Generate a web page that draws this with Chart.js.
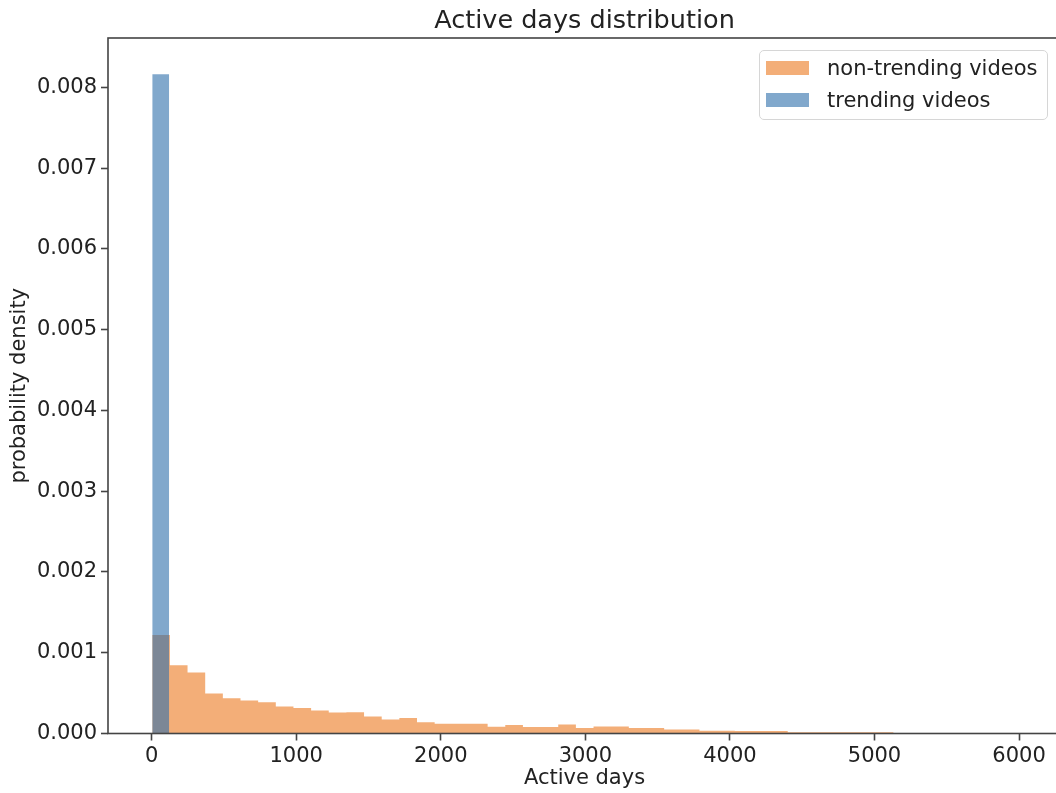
<!DOCTYPE html>
<html lang="en">
<head>
    <meta charset="UTF-8">
    <meta name="viewport" content="width=device-width, initial-scale=1.0">
    <title>Active days distribution</title>
    <script src="https://cdn.jsdelivr.net/npm/chart.js"></script>
    <style>
        body {
            margin: 0;
            background: #fff;
            overflow: hidden;
        }
        .chart-wrap {
            position: relative;
            width: 1076px;
            height: 793px;
        }
        #legend {
            position: absolute;
            left: 759px;
            top: 50px;
            width: 289px;
            height: 70px;
            box-sizing: border-box;
            border: 1px solid #d6d6d6;
            border-radius: 5px;
            background: rgba(255, 255, 255, 0.8);
            font-family: "DejaVu Sans", sans-serif;
            font-size: 21px;
            color: #222;
        }
        .legend-item {
            position: absolute;
            left: 6px;
            height: 24px;
            display: flex;
            align-items: center;
            white-space: nowrap;
        }
        .legend-swatch {
            width: 43px;
            height: 14px;
            margin-right: 18px;
        }
    </style>
</head>
<body>
    <div class="chart-wrap">
        <canvas id="histChart" width="1076" height="793"></canvas>
        <div id="legend"></div>
    </div>

    <script>
        // density per bin
        const nonTrendingDensity = [
            0.001218, 0.000846, 0.000756, 0.000496, 0.000437, 0.000409, 0.000388,
            0.000335, 0.000317, 0.000285, 0.000260, 0.000262, 0.000211, 0.000173,
            0.000193, 0.000140, 0.000122, 0.000122, 0.000122, 0.000085, 0.000105,
            0.000082, 0.000082, 0.000110, 0.000068, 0.000088, 0.000088, 0.000068,
            0.000068, 0.000050, 0.000050, 0.000033, 0.000033, 0.000032, 0.000032,
            0.000032, 0.000016, 0.000016, 0.000016, 0.000016, 0.000016, 0.000016
        ];
        const trendingDensity = [0.00816];

        // bin layout (days)
        const nonTrendingFirstEdge = 4;
        const nonTrendingBinWidth = 122.1;
        const trendingFirstEdge = 4;
        const trendingBinWidth = 117;

        const xTicks = [0, 1000, 2000, 3000, 4000, 5000, 6000];
        const yTicks = [0, 0.001, 0.002, 0.003, 0.004, 0.005, 0.006, 0.007, 0.008];

        const seriesLabels = ['non-trending videos', 'trending videos'];

        const FONT = 'DejaVu Sans';
        const TEXT = '#222';
        const SPINE = '#444';

        // histogram outline as points on the left bin edges, closed on the last right edge
        function stepPoints(first, width, values) {
            const pts = values.map((v, i) => ({ x: first + i * width, y: v }));
            pts.push({ x: first + values.length * width, y: values[values.length - 1] });
            return pts;
        }

        const framePlugin = {
            id: 'frame',
            afterDatasetsDraw(chart) {
                const a = chart.chartArea;
                const ctx = chart.ctx;
                ctx.save();
                ctx.strokeStyle = SPINE;
                ctx.lineWidth = 1.6;
                ctx.strokeRect(a.left, a.top, a.right - a.left, a.bottom - a.top);
                ctx.restore();
            }
        };

        const ctx = document.getElementById('histChart').getContext('2d');
        const histChart = new Chart(ctx, {
            type: 'line',
            data: {
                datasets: [{
                    label: seriesLabels[0],
                    data: stepPoints(nonTrendingFirstEdge, nonTrendingBinWidth, nonTrendingDensity),
                    backgroundColor: 'rgba(235, 120, 30, 0.6)',
                    borderColor: 'transparent',
                    borderWidth: 0,
                    stepped: 'before',
                    fill: 'origin',
                    pointRadius: 0,
                    pointHoverRadius: 0,
                    order: 1
                }, {
                    label: seriesLabels[1],
                    data: stepPoints(trendingFirstEdge, trendingBinWidth, trendingDensity),
                    backgroundColor: 'rgba(45, 110, 170, 0.6)',
                    borderColor: 'transparent',
                    borderWidth: 0,
                    stepped: 'before',
                    fill: 'origin',
                    pointRadius: 0,
                    pointHoverRadius: 0,
                    order: 0
                }]
            },
            options: {
                responsive: false,
                animation: false,
                events: [],
                layout: { padding: { left: 0, right: 15, top: 0, bottom: 0 } },
                plugins: {
                    legend: { display: false },
                    tooltip: { enabled: false },
                    title: {
                        display: true,
                        fullSize: false,
                        text: 'Active days distribution',
                        color: TEXT,
                        font: { family: FONT, size: 25.5, weight: 'normal' },
                        padding: { top: 6, bottom: 1.4 }
                    }
                },
                scales: {
                    x: {
                        type: 'linear',
                        min: -302,
                        max: 6290,
                        border: { display: false },
                        grid: {
                            drawOnChartArea: false,
                            drawTicks: true,
                            tickLength: 7,
                            tickColor: SPINE,
                            tickWidth: 1.6
                        },
                        afterBuildTicks: s => { s.ticks = xTicks.map(v => ({ value: v })); },
                        ticks: {
                            color: TEXT,
                            font: { family: FONT, size: 21 },
                            padding: 3,
                            maxRotation: 0,
                            callback: v => String(v)
                        },
                        title: {
                            display: true,
                            text: 'Active days',
                            color: TEXT,
                            font: { family: FONT, size: 21 },
                            padding: { top: 0, bottom: 2 }
                        },
                        afterFit: s => { s.height = 59.5; }
                    },
                    y: {
                        min: 0,
                        max: 0.00861,
                        border: { display: false },
                        grid: {
                            drawOnChartArea: false,
                            drawTicks: true,
                            tickLength: 7,
                            tickColor: SPINE,
                            tickWidth: 1.6
                        },
                        afterBuildTicks: s => { s.ticks = yTicks.map(v => ({ value: v })); },
                        ticks: {
                            color: TEXT,
                            font: { family: FONT, size: 21 },
                            padding: 4,
                            callback: v => Number(v).toFixed(3)
                        },
                        title: {
                            display: true,
                            text: 'probability density',
                            color: TEXT,
                            font: { family: FONT, size: 21 },
                            padding: { top: 7.4, bottom: 0 }
                        },
                        afterFit: s => { s.width = 108; }
                    }
                }
            },
            plugins: [framePlugin]
        });

        // legend box in the upper right, built from the datasets
        const legendEl = document.getElementById('legend');
        histChart.data.datasets.forEach((ds, i) => {
            const item = document.createElement('div');
            item.className = 'legend-item';
            item.style.top = (5 + i * 32) + 'px';
            const sw = document.createElement('span');
            sw.className = 'legend-swatch';
            sw.style.background = ds.backgroundColor;
            const txt = document.createElement('span');
            txt.textContent = ds.label;
            item.appendChild(sw);
            item.appendChild(txt);
            legendEl.appendChild(item);
        });
    </script>
</body>
</html>
